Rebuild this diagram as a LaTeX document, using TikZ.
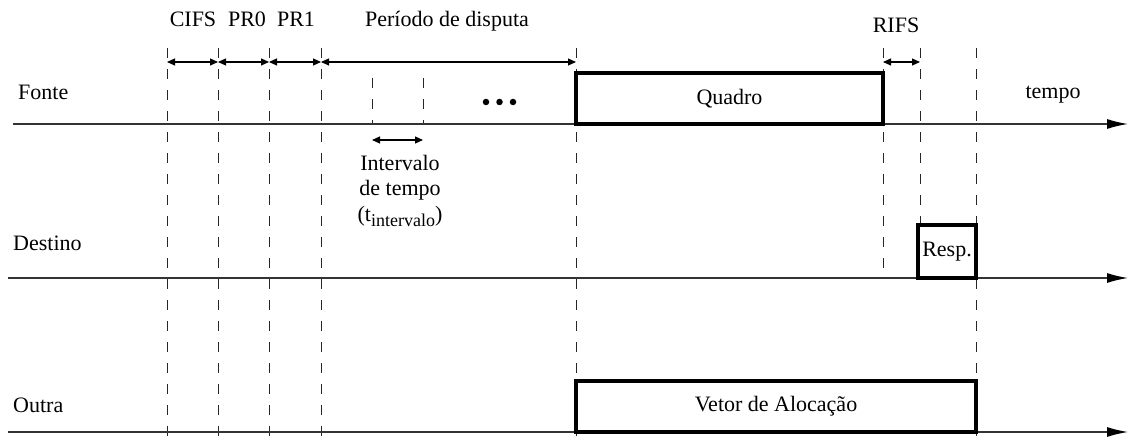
\documentclass[tikz,border=0pt]{standalone}
\usepackage{fontspec}
\setmainfont{Liberation Serif}
\usetikzlibrary{arrows.meta}
\begin{document}
\begin{tikzpicture}[x=1pt,y=-1pt,
  lbl/.style={font=\fontsize{22}{25}\selectfont, inner sep=0pt, anchor=base},
  axis/.style={line width=1.3pt, draw=black!80, -{Latex[length=21pt,width=10pt,black]}},
  vdash/.style={line width=1pt, draw=black!85, dash pattern=on 10pt off 11pt},
  span/.style={line width=1.1pt, {Triangle[length=8pt,width=7pt]}-{Triangle[length=8pt,width=7pt]}},
  frame/.style={draw, line width=3.4pt, fill=white, inner sep=0pt, font=\fontsize{22}{25}\selectfont},
  dot/.style={circle, fill, inner sep=0pt, minimum size=6.5pt}]
\useasboundingbox (0,0) rectangle (1129,443);

% vertical dashed guides
\foreach \n/\x/\yb in {c1/167/443, c2/218/443, c3/269/443, c4/321/443, c5/576/443, c6/883/278, c7/920/225, c8/976/443} {
  \coordinate (\n-t) at (\x,48);
  \coordinate (\n-b) at (\x,\yb);
  \coordinate (\n-a) at (\x,62);
  \draw[vdash] (\n-t) -- (\n-b);
}
\coordinate (i1-t) at (372,78);
\coordinate (i1-b) at (372,124);
\coordinate (i1-a) at (372,140);
\coordinate (i2-t) at (423,78);
\coordinate (i2-b) at (423,124);
\coordinate (i2-a) at (423,140);
\draw[vdash] (i1-t) -- (i1-b);
\draw[vdash] (i2-t) -- (i2-b);

% time axes
\coordinate (f0) at (13,124);  \coordinate (f1) at (1128,124);
\coordinate (d0) at (8,278);   \coordinate (d1) at (1128,278);
\coordinate (o0) at (8,432);   \coordinate (o1) at (1128,432);
\draw[axis] (f0) -- (f1);
\draw[axis] (d0) -- (d1);
\draw[axis] (o0) -- (o1);

% span arrows
\draw[span] (c1-a) -- (c2-a);
\draw[span] (c2-a) -- (c3-a);
\draw[span] (c3-a) -- (c4-a);
\draw[span] (c4-a) -- (c5-a);
\draw[span] (c6-a) -- (c7-a);
\draw[span] (i1-a) -- (i2-a);

% boxes
\node[frame, minimum width=307pt, minimum height=51pt] (quadro) at (729.5,98.5) {Quadro};
\node[frame, minimum width=58pt, minimum height=53pt] (resp) at (947,251.5) {Resp.};
\node[frame, minimum width=400pt, minimum height=51pt] (vetor) at (776,406.5) {Vetor de Alocação};

% dots
\node[dot] (dot1) at (486,102) {};
\node[dot] (dot2) at (499.5,102) {};
\node[dot] (dot3) at (513,102) {};

% labels
\node[lbl] (cifs) at (193,27) {CIFS};
\node[lbl] (pr0) at (247,27) {PR0};
\node[lbl] (pr1) at (296,27) {PR1};
\node[lbl] (disp) at (447,27) {Período de disputa};
\node[lbl] (rifs) at (896,33) {RIFS};
\node[lbl, anchor=base west] (fonte) at (18,100) {Fonte};
\node[lbl, anchor=base west] (destino) at (13,251) {Destino};
\node[lbl, anchor=base west] (outra) at (13,412) {Outra};
\node[lbl] (tempo) at (1053,99) {tempo};
\node[lbl] (int1) at (400,171) {Intervalo};
\node[lbl] (int2) at (400,196) {de tempo};
\node[lbl] (int3) at (400,222) {(t\raisebox{-5pt}{\fontsize{18}{18}\selectfont intervalo})};
\end{tikzpicture}
\end{document}
